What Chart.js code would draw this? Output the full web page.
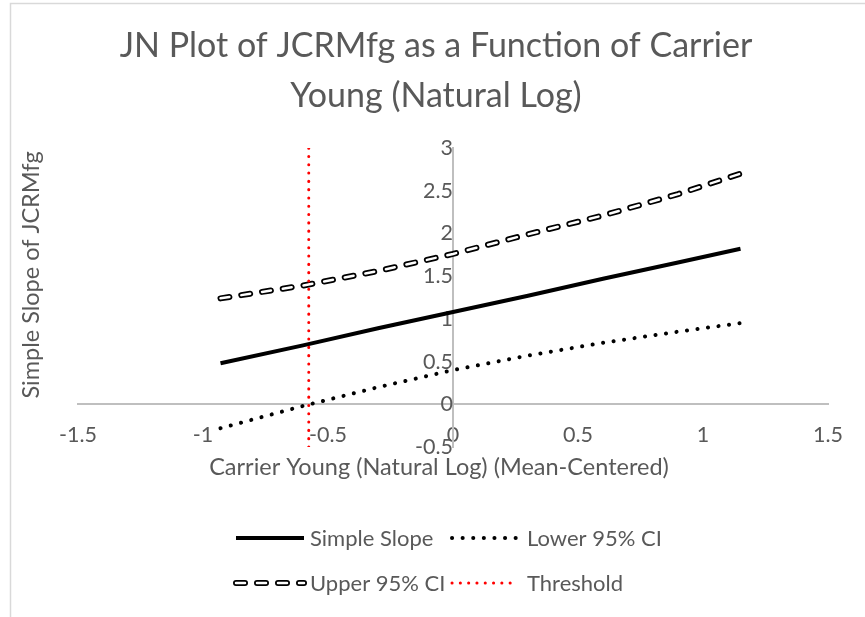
<!DOCTYPE html>
<html>
<head>
<meta charset="utf-8">
<script src="https://cdn.jsdelivr.net/npm/chart.js@4.4.0/dist/chart.umd.min.js"></script>
<style>
    html, body { margin: 0; padding: 0; background: #ffffff; }
    #wrap { width: 865px; height: 617px; position: relative; }
</style>
</head>
<body>
<div id="wrap"><canvas id="chart" width="865" height="617"></canvas></div>
<script>
const titleLines = ["JN Plot of JCRMfg as a Function of Carrier", "Young (Natural Log)"];
const xTitle = "Carrier Young (Natural Log) (Mean-Centered)";
const yTitle = "Simple Slope of JCRMfg";

const xValues = [-0.93, -0.6, -0.3, 0, 0.3, 0.6, 0.9, 1.15];
const simpleSlope = [0.48, 0.69, 0.89, 1.08, 1.27, 1.47, 1.66, 1.82];
const lowerCI = [-0.28, -0.02, 0.20, 0.40, 0.57, 0.72, 0.85, 0.95];
const upperCI = [1.24, 1.39, 1.56, 1.76, 1.99, 2.21, 2.46, 2.70];
const thresholdX = [-0.577, -0.577];
const thresholdY = [-0.5, 3];

const xRange = [-1.5, 1.5];
const yRange = [-0.5, 3];

const fontFamily = "Lato, 'Open Sans', sans-serif";
const textColor = "#595959";
const axisColor = "#bfbfbf";

function toPoints(xs, ys) {
    return xs.map((x, i) => ({ x: x, y: ys[i] }));
}

// Excel writes 3 not 3.0
function plainTick(value) {
    return String(Math.round(value * 10) / 10);
}

// legend entries drawn by hand, Excel style
const legendItems = [
    { label: "Simple Slope", kind: "solid", col: 0, row: 0 },
    { label: "Lower 95% CI", kind: "dots", col: 1, row: 0 },
    { label: "Upper 95% CI", kind: "double", col: 0, row: 1 },
    { label: "Threshold", kind: "red", col: 1, row: 1 }
];

function strokeSample(ctx, kind, x1, x2, y) {
    ctx.save();
    ctx.lineCap = "round";
    ctx.beginPath();
    ctx.moveTo(x1, y);
    ctx.lineTo(x2, y);
    if (kind === "solid") {
        ctx.lineCap = "butt";
        ctx.strokeStyle = "#000";
        ctx.lineWidth = 4;
        ctx.stroke();
    } else if (kind === "dots") {
        ctx.strokeStyle = "#000";
        ctx.lineWidth = 4;
        ctx.setLineDash([0.1, 10.5]);
        ctx.stroke();
    } else if (kind === "red") {
        ctx.strokeStyle = "#ff0000";
        ctx.lineWidth = 3;
        ctx.setLineDash([0.1, 8.2]);
        ctx.stroke();
    } else {
        ctx.strokeStyle = "#000";
        ctx.lineWidth = 6;
        ctx.setLineDash([9, 12]);
        ctx.stroke();
        ctx.strokeStyle = "#fff";
        ctx.lineWidth = 2.5;
        ctx.stroke();
    }
    ctx.restore();
}

const decorPlugin = {
    id: "decor",
    beforeDraw(chart) {
        const ctx = chart.ctx;
        ctx.save();
        ctx.fillStyle = "#fff";
        ctx.fillRect(0, 0, chart.width, chart.height);
        ctx.strokeStyle = "#d9d9d9";
        ctx.lineWidth = 1.5;
        ctx.strokeRect(10.5, 3.5, chart.width + 20, chart.height + 20);
        ctx.restore();
    },
    afterDraw(chart) {
        const ctx = chart.ctx;
        ctx.save();
        ctx.fillStyle = textColor;
        ctx.textAlign = "center";
        ctx.textBaseline = "middle";
        ctx.font = "34px " + fontFamily;
        ctx.fillText(titleLines[0], 436, 46);
        ctx.fillText(titleLines[1], 436, 96);

        ctx.font = "23.5px " + fontFamily;
        ctx.fillText(xTitle, 439, 467);
        ctx.save();
        ctx.translate(31, 275);
        ctx.rotate(-Math.PI / 2);
        ctx.fillText(yTitle, 0, 0);
        ctx.restore();

        ctx.font = "22px " + fontFamily;
        ctx.textAlign = "left";
        legendItems.forEach(item => {
            const x0 = item.col === 0 ? 236 : 452;
            const x1 = item.col === 0 ? 304 : 516;
            const y = item.row === 0 ? 538 : 583;
            strokeSample(ctx, item.kind, x0, x1, y);
            ctx.fillStyle = textColor;
            ctx.fillText(item.label, item.col === 0 ? 310 : 527, y + 1);
        });
        ctx.restore();
    }
};

new Chart(document.getElementById("chart"), {
    type: "scatter",
    data: {
        datasets: [
            {
                label: "Threshold",
                data: toPoints(thresholdX, thresholdY),
                showLine: true,
                borderColor: "#ff0000",
                borderWidth: 3,
                borderDash: [0.1, 8.2],
                borderCapStyle: "round",
                pointRadius: 0
            },
            {
                label: "Simple Slope",
                data: toPoints(xValues, simpleSlope),
                showLine: true,
                borderColor: "#000000",
                borderWidth: 4,
                pointRadius: 0
            },
            {
                label: "Lower 95% CI",
                data: toPoints(xValues, lowerCI),
                showLine: true,
                borderColor: "#000000",
                borderWidth: 4,
                borderDash: [0.1, 10.5],
                borderCapStyle: "round",
                pointRadius: 0
            },
            {
                label: "Upper 95% CI (inner)",
                data: toPoints(xValues, upperCI),
                showLine: true,
                borderColor: "#ffffff",
                borderWidth: 2.5,
                borderDash: [9, 12],
                borderCapStyle: "round",
                pointRadius: 0
            },
            {
                label: "Upper 95% CI",
                data: toPoints(xValues, upperCI),
                showLine: true,
                borderColor: "#000000",
                borderWidth: 6,
                borderDash: [9, 12],
                borderCapStyle: "round",
                pointRadius: 0
            }
        ]
    },
    options: {
        responsive: false,
        animation: false,
        events: [],
        layout: { padding: { left: 78, right: 37, top: 148, bottom: 170 } },
        plugins: {
            legend: { display: false },
            title: { display: false },
            tooltip: { enabled: false }
        },
        elements: { line: { tension: 0 } },
        scales: {
            x: {
                type: "linear",
                min: xRange[0],
                max: xRange[1],
                position: { y: 0 },
                grid: { display: false, drawTicks: false },
                border: { color: axisColor, width: 2 },
                ticks: {
                    stepSize: 0.5,
                    padding: 18,
                    color: textColor,
                    font: { family: fontFamily, size: 21.5 },
                    callback: plainTick
                }
            },
            y: {
                type: "linear",
                min: yRange[0],
                max: yRange[1],
                position: { x: 0 },
                grid: { display: false, drawTicks: false },
                border: { color: axisColor, width: 2 },
                ticks: {
                    stepSize: 0.5,
                    padding: 21,
                    color: textColor,
                    font: { family: fontFamily, size: 21.5 },
                    callback: plainTick
                }
            }
        }
    },
    plugins: [decorPlugin]
});
</script>
</body>
</html>
